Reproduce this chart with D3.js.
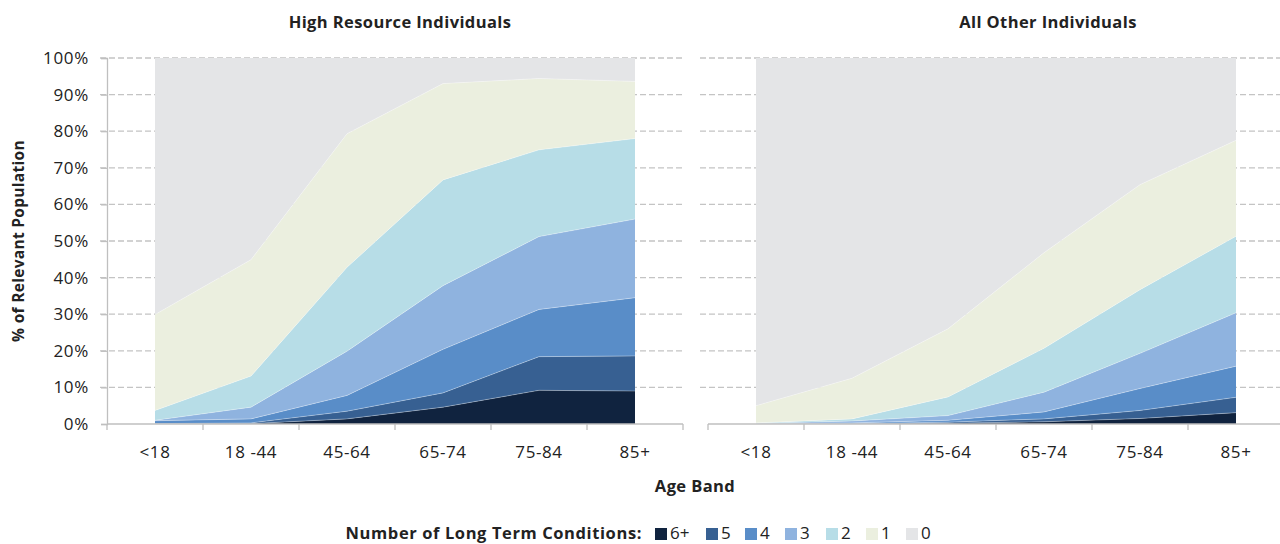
<!DOCTYPE html>
<html>
<head>
<meta charset="utf-8">
<script src="https://cdn.jsdelivr.net/npm/d3@7"></script>
<style>
  body { margin: 0; background: #fff; }
  text { font-family: "Open Sans", Lato, sans-serif; fill: #222; }
</style>
</head>
<body>
<svg id="graph" width="1280" height="544"></svg>
<script>
  var ageBands = ["<18", "18 -44", "45-64", "65-74", "75-84", "85+"];
  var conditions = ["6+", "5", "4", "3", "2", "1", "0"];
  var colors = ["#10233F", "#376092", "#598DC8", "#8FB3DF", "#B7DDE7", "#EBEFDF", "#E4E5E7"];
  var yTicks = [0, 0.1, 0.2, 0.3, 0.4, 0.5, 0.6, 0.7, 0.8, 0.9, 1];

  // High Resource Individuals, % per age band
  var highSix   = [0.05, 0.1, 1.4, 4.6, 9.2, 9.0];
  var highFive  = [0.05, 0.2, 2.1, 3.9, 9.2, 9.6];
  var highFour  = [0.8, 1.1, 4.3, 11.9, 12.9, 15.9];
  var highThree = [0.1, 3.2, 12.1, 17.4, 19.9, 21.5];
  var highTwo   = [2.7, 8.5, 22.9, 28.9, 23.7, 22.0];
  var highOne   = [26.2, 31.8, 36.5, 26.3, 19.5, 15.6];
  var highZero  = [70.1, 55.1, 20.7, 7.0, 5.6, 6.4];

  // All Other Individuals, % per age band
  var otherSix   = [0.02, 0.05, 0.2, 0.6, 1.5, 3.1];
  var otherFive  = [0.03, 0.05, 0.3, 0.8, 2.2, 4.2];
  var otherFour  = [0.05, 0.2, 0.5, 1.9, 6.0, 8.5];
  var otherThree = [0.1, 0.5, 1.3, 5.4, 9.6, 14.6];
  var otherTwo   = [0.1, 0.6, 5.1, 12.0, 17.4, 20.9];
  var otherOne   = [4.7, 11.1, 18.6, 26.1, 28.7, 26.2];
  var otherZero  = [95.0, 87.5, 74.0, 53.2, 34.6, 22.5];

  var svg = d3.select("#graph");
  var plotTop = 58, plotBottom = 424;
  var plotW = 576;

  function makeRows(series) {
    return ageBands.map(function(band, i) {
      var row = { band: band };
      conditions.forEach(function(c, j) { row[c] = series[j][i] / 100; });
      return row;
    });
  }

  var y = d3.scaleLinear().domain([0, 1]).range([plotBottom, plotTop]);

  function panel(left, title, titleX, series, showY) {
    var g = svg.append("g");
    var x = d3.scaleBand().domain(ageBands).range([left, left + plotW]);
    var bw = x.bandwidth();
    var cx = function(b) { return x(b) + bw / 2; };

    // gridlines
    g.selectAll(".grid").data(yTicks.slice(1)).enter().append("line")
      .attr("x1", showY ? left - 7 : left - 8)
      .attr("x2", Math.min(left + plotW, 1280))
      .attr("y1", function(d) { return y(d); })
      .attr("y2", function(d) { return y(d); })
      .attr("stroke", "#C4C4C4")
      .attr("stroke-width", 1.3)
      .attr("stroke-dasharray", "6,3");

    var rows = makeRows(series);
    var stack = d3.stack().keys(conditions);
    var layers = stack(rows);

    var area = d3.area()
      .x(function(d) { return cx(d.data.band); })
      .y0(function(d) { return y(d[0]); })
      .y1(function(d) { return y(d[1]); });

    var line = d3.line()
      .x(function(d) { return cx(d.data.band); })
      .y(function(d) { return y(d[1]); });

    g.selectAll(".layer").data(layers).enter().append("path")
      .attr("d", area)
      .attr("fill", function(d, i) { return colors[i]; });

    // thin light edges between layers
    g.selectAll(".edge").data(layers.slice(0, 6)).enter().append("path")
      .attr("d", line)
      .attr("fill", "none")
      .attr("stroke", "#fff")
      .attr("stroke-opacity", 0.45)
      .attr("stroke-width", 0.7);

    // x axis line and ticks at band edges
    g.append("line")
      .attr("x1", left).attr("x2", Math.min(left + plotW, 1280))
      .attr("y1", plotBottom).attr("y2", plotBottom)
      .attr("stroke", "#BFBFBF").attr("stroke-width", 1.3);

    var edges = ageBands.map(function(b) { return x(b); }).concat([left + plotW]);
    g.selectAll(".xtick").data(edges).enter().append("line")
      .attr("x1", function(d) { return d; }).attr("x2", function(d) { return d; })
      .attr("y1", plotBottom).attr("y2", plotBottom + 6)
      .attr("stroke", "#BFBFBF").attr("stroke-width", 1.3);

    g.selectAll(".xlabel").data(ageBands).enter().append("text")
      .attr("x", function(d) { return cx(d); })
      .attr("y", 458)
      .attr("text-anchor", "middle")
      .style("font-size", "17px")
      .style("letter-spacing", "0.6px")
      .text(function(d) { return d; });

    if (showY) {
      var yAxis = g.append("g")
        .attr("transform", "translate(" + left + ",0)")
        .call(d3.axisLeft(y).tickValues(yTicks).tickFormat(d3.format(".0%")).tickSize(6).tickPadding(12));
      yAxis.select(".domain").attr("stroke", "#BFBFBF").attr("stroke-width", 1.3);
      yAxis.selectAll(".tick line").attr("stroke", "#BFBFBF").attr("stroke-width", 1.3);
      yAxis.selectAll(".tick text")
        .style("font-size", "17px")
        .style("letter-spacing", "0.7px")
        .style("font-family", "'Open Sans', Lato, sans-serif")
        .attr("fill", "#222");
    }

    svg.append("text").text(title)
      .attr("x", titleX)
      .attr("y", 28)
      .attr("text-anchor", "middle")
      .style("font-size", "16.5px")
      .style("letter-spacing", "0.4px")
      .style("font-weight", "bold");
  }

  panel(107, "High Resource Individuals", 400,
        [highSix, highFive, highFour, highThree, highTwo, highOne, highZero], true);
  panel(708, "All Other Individuals", 1048,
        [otherSix, otherFive, otherFour, otherThree, otherTwo, otherOne, otherZero], false);

  // axis titles
  svg.append("text").text("Age Band")
    .attr("x", 695).attr("y", 492)
    .attr("text-anchor", "middle")
    .style("font-size", "16.5px").style("letter-spacing", "0.4px").style("font-weight", "bold");

  svg.append("text").text("% of Relevant Population")
    .attr("transform", "translate(24," + 241 + ") rotate(-90)")
    .attr("text-anchor", "middle")
    .style("font-size", "15.5px").style("letter-spacing", "0.3px").style("font-weight", "bold");

  // legend
  var legend = svg.append("g").attr("transform", "translate(0,533)");
  legend.append("text").text("Number of Long Term Conditions:")
    .attr("x", 642).attr("y", 6)
    .attr("text-anchor", "end")
    .style("font-size", "16.5px").style("letter-spacing", "0.6px").style("font-weight", "bold");

  var legendX = [655, 706, 745, 785, 826, 866, 906];
  var items = legend.selectAll(".item").data(conditions).enter().append("g")
    .attr("transform", function(d, i) { return "translate(" + legendX[i] + ",0)"; });
  items.append("rect")
    .attr("x", 0).attr("y", -5)
    .attr("width", 12).attr("height", 12)
    .attr("fill", function(d, i) { return colors[i]; });
  items.append("text")
    .attr("x", 15).attr("y", 6)
    .style("font-size", "17px")
    .text(function(d) { return d; });
</script>
</body>
</html>
